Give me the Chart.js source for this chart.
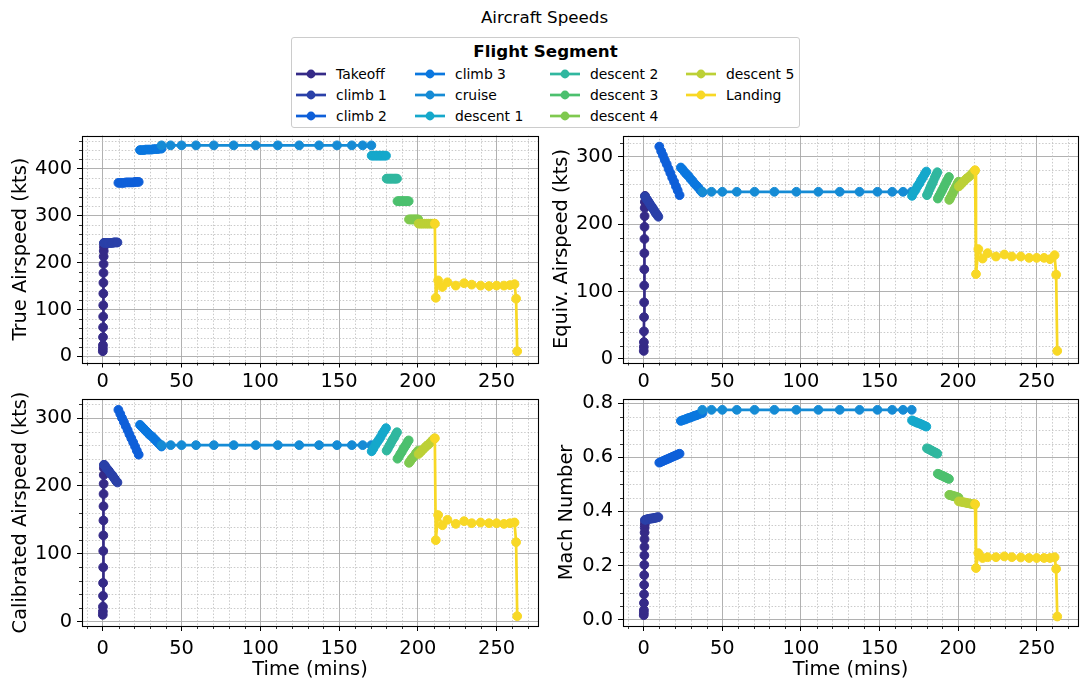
<!DOCTYPE html>
<html>
<head>
<meta charset="utf-8">
<script src="https://cdn.jsdelivr.net/npm/chart.js@4.4.1/dist/chart.umd.min.js"></script>
<style>
html,body{margin:0;padding:0;background:#fff;}
body{width:1089px;height:690px;position:relative;overflow:hidden;font-family:'DejaVu Sans',sans-serif;color:#000;}
canvas{position:absolute;}
#title{position:absolute;left:0;width:1089px;top:7px;text-align:center;font-size:16.7px;line-height:20px;}
#legend{position:absolute;left:291px;top:37px;width:507px;height:89px;border:1px solid #cccccc;border-radius:3px;background:#fff;z-index:5;}
#legend .lt{position:absolute;left:0;width:100%;top:3px;text-align:center;font-weight:bold;font-size:16.7px;line-height:20px;}
#legend .it{position:absolute;height:20px;display:flex;align-items:center;font-size:13.9px;white-space:nowrap;}
#legend svg{margin-right:10px;}
</style>
</head>
<body>
<div id="title">Aircraft Speeds</div>
<div id="legend"><div class="lt">Flight Segment</div></div>
<canvas id="cTAS" width="545" height="280" style="left:0;top:120px"></canvas>
<canvas id="cEAS" width="544" height="280" style="left:545px;top:120px"></canvas>
<canvas id="cCAS" width="545" height="305" style="left:0;top:385px"></canvas>
<canvas id="cMach" width="544" height="305" style="left:545px;top:385px"></canvas>
<script>
// ---------------- DATA ----------------
const segments = ['Takeoff','climb 1','climb 2','climb 3','cruise','descent 1','descent 2','descent 3','descent 4','descent 5','Landing'];
const segColors = ['#352a87','#2a40a8','#0e5fd9','#0a77df','#158bd5','#15a8cb','#30b79f','#4cc06e','#7fc94f','#bcd036','#f8d825'];

const tTakeoff = [0, 0.05, 0.1, 0.15, 0.2, 0.25, 0.3, 0.35, 0.4, 0.45, 0.5, 0.55, 0.6, 0.7, 0.8];
const tClimb1  = [0.8, 1.6, 2.3, 3.1, 3.9, 4.7, 5.4, 6.2, 7.0, 7.7, 8.5, 9.3];
const tClimb2  = [9.9, 11.1, 12.2, 13.4, 14.6, 15.8, 16.9, 18.1, 19.3, 20.5, 21.6, 22.8];
const tClimb3  = [23.6, 24.8, 26.1, 27.3, 28.6, 29.8, 31.1, 32.3, 33.6, 34.8, 36.1, 37.3];
const tCruise  = [37.3, 43.1, 50.0, 59.2, 70.5, 83.1, 97.1, 111.1, 124.7, 137.3, 148.7, 158.1, 165.0, 170.5];
const tDesc1   = [170.7, 171.8, 173.0, 174.1, 175.3, 176.4, 177.5, 178.7, 179.8];
const tDesc2   = [180.2, 181.0, 181.9, 182.7, 183.5, 184.3, 185.2, 186.0, 186.8];
const tDesc3   = [187.1, 188.0, 188.9, 189.8, 190.7, 191.5, 192.4, 193.3, 194.2];
const tDesc4   = [194.4, 195.1, 195.9, 196.6, 197.4, 198.1, 198.8, 199.6, 200.3];
const tDesc5   = [200.5, 201.8, 203.0, 204.3, 205.6, 206.8, 208.1, 209.3, 210.6];
const tLanding = [210.8, 211.4, 212.9, 215.6, 218.8, 224.1, 229.4, 234.2, 239.9, 245.2, 250.0, 254.7, 258.5, 261.4, 262.4, 263.1];
const segTimes = [tTakeoff, tClimb1, tClimb2, tClimb3, tCruise, tDesc1, tDesc2, tDesc3, tDesc4, tDesc5, tLanding];

// True airspeed (kts), per segment
const tasValues = [
  [11, 17, 24, 41, 62, 85, 109, 134, 157, 178, 197, 213, 225, 234, 242],
  [242, 242, 242, 242, 242, 242, 242, 242, 243, 243, 243, 243],
  [370, 370, 370, 370, 371, 371, 371, 371, 371, 372, 372, 372],
  [440, 440, 440, 441, 441, 441, 441, 442, 442, 442, 443, 443],
  [450, 450, 450, 450, 450, 450, 450, 450, 450, 450, 450, 450, 450, 450],
  [428, 428, 428, 428, 428, 428, 428, 428, 428],
  [379, 379, 379, 379, 379, 379, 379, 379, 379],
  [331, 331, 331, 331, 331, 331, 331, 331, 331],
  [292, 292, 292, 292, 292, 292, 292, 292, 292],
  [283, 283, 283, 283, 283, 283, 283, 283, 283],
  [283, 125, 162, 148, 158, 151, 156, 153, 151, 150, 151, 151, 152, 154, 123, 11]
];
// Equivalent airspeed (kts)
const easValues = [
  [12, 18, 25, 41, 62, 84, 109, 133, 157, 178, 196, 212, 224, 233, 242],
  [241, 238, 236, 233, 230, 227, 225, 222, 219, 216, 214, 211],
  [315, 308, 302, 295, 289, 282, 276, 269, 263, 256, 250, 243],
  [284, 281, 277, 274, 271, 267, 264, 260, 257, 254, 250, 247],
  [248, 248, 248, 248, 248, 248, 248, 248, 248, 248, 248, 248, 248, 248],
  [242, 247, 251, 256, 260, 265, 269, 274, 278],
  [243, 247, 252, 256, 260, 264, 269, 273, 277],
  [238, 242, 246, 250, 254, 258, 262, 266, 270],
  [236, 239, 243, 246, 250, 253, 256, 260, 263],
  [256, 259, 262, 265, 268, 270, 273, 276, 279],
  [280, 126, 163, 149, 157, 152, 155, 152, 152, 150, 150, 150, 148, 154, 125, 12]
];
// Calibrated airspeed (kts)
const casValues = [
  [10, 15, 22, 38, 57, 80, 104, 127, 149, 170, 188, 203, 216, 226, 231],
  [231, 229, 226, 224, 222, 219, 217, 215, 212, 210, 207, 205],
  [312, 306, 300, 294, 288, 282, 276, 270, 264, 258, 252, 246],
  [290, 287, 284, 281, 278, 275, 273, 270, 267, 264, 261, 258],
  [260, 260, 260, 260, 260, 260, 260, 260, 260, 260, 260, 260, 260, 260],
  [251, 255, 260, 264, 268, 272, 277, 281, 285],
  [252, 255, 259, 262, 266, 269, 272, 276, 279],
  [240, 243, 247, 250, 254, 257, 260, 264, 267],
  [234, 236, 239, 241, 243, 245, 248, 250, 252],
  [247, 250, 253, 256, 259, 261, 264, 267, 270],
  [270, 120, 157, 142, 150, 144, 148, 145, 146, 145, 145, 144, 145, 146, 117, 8]
];
// Mach number
const machValues = [
  [0.017, 0.026, 0.036, 0.062, 0.094, 0.129, 0.165, 0.203, 0.238, 0.269, 0.298, 0.322, 0.340, 0.354, 0.366],
  [0.369, 0.370, 0.371, 0.372, 0.373, 0.374, 0.374, 0.375, 0.376, 0.377, 0.378, 0.379],
  [0.580, 0.583, 0.586, 0.589, 0.592, 0.595, 0.598, 0.601, 0.604, 0.607, 0.610, 0.613],
  [0.734, 0.737, 0.739, 0.742, 0.745, 0.747, 0.750, 0.753, 0.755, 0.758, 0.761, 0.763],
  [0.775, 0.775, 0.775, 0.775, 0.775, 0.775, 0.775, 0.775, 0.775, 0.775, 0.775, 0.775, 0.775, 0.775],
  [0.736, 0.733, 0.730, 0.727, 0.725, 0.722, 0.719, 0.716, 0.713],
  [0.633, 0.631, 0.628, 0.626, 0.623, 0.621, 0.618, 0.616, 0.613],
  [0.539, 0.537, 0.534, 0.532, 0.530, 0.527, 0.525, 0.522, 0.520],
  [0.461, 0.460, 0.459, 0.457, 0.456, 0.455, 0.454, 0.452, 0.451],
  [0.437, 0.436, 0.434, 0.433, 0.431, 0.430, 0.428, 0.427, 0.425],
  [0.427, 0.191, 0.246, 0.228, 0.231, 0.231, 0.234, 0.231, 0.230, 0.228, 0.228, 0.228, 0.228, 0.231, 0.188, 0.012]
];

// ---------------- RENDER ----------------
const FONT = "'DejaVu Sans', sans-serif";

const frameMinor = {
  id: 'frameMinor',
  beforeDatasetsDraw(chart, args, o) {
    const {ctx, chartArea: a} = chart;
    const xs = chart.scales.x, ys = chart.scales.y;
    const xk0 = Math.ceil(xs.min / o.xMinor - 1e-9), xk1 = Math.floor(xs.max / o.xMinor + 1e-9);
    const yk0 = Math.ceil(ys.min / o.yMinor - 1e-9), yk1 = Math.floor(ys.max / o.yMinor + 1e-9);
    ctx.save();
    ctx.lineWidth = 0.8;
    ctx.strokeStyle = '#bdbdbd';
    ctx.setLineDash([1.5, 1.8]);
    for (let k = xk0; k <= xk1; k++) {
      if (k % o.xRatio === 0) continue;
      const p = Math.round(xs.getPixelForValue(k * o.xMinor)) + 0.5;
      ctx.beginPath(); ctx.moveTo(p, a.top); ctx.lineTo(p, a.bottom); ctx.stroke();
    }
    for (let k = yk0; k <= yk1; k++) {
      if (k % o.yRatio === 0) continue;
      const p = Math.round(ys.getPixelForValue(k * o.yMinor)) + 0.5;
      ctx.beginPath(); ctx.moveTo(a.left, p); ctx.lineTo(a.right, p); ctx.stroke();
    }
    ctx.setLineDash([]);
    ctx.strokeStyle = '#000';
    for (let k = xk0; k <= xk1; k++) {
      if (k % o.xRatio === 0) continue;
      const p = Math.round(xs.getPixelForValue(k * o.xMinor)) + 0.5;
      ctx.beginPath(); ctx.moveTo(p, a.bottom); ctx.lineTo(p, a.bottom + 3); ctx.stroke();
    }
    for (let k = yk0; k <= yk1; k++) {
      if (k % o.yRatio === 0) continue;
      const p = Math.round(ys.getPixelForValue(k * o.yMinor)) + 0.5;
      ctx.beginPath(); ctx.moveTo(a.left, p); ctx.lineTo(a.left - 3, p); ctx.stroke();
    }
    ctx.restore();
  },
  afterDatasetsDraw(chart) {
    const {ctx, chartArea: a} = chart;
    ctx.save();
    ctx.strokeStyle = '#000';
    ctx.lineWidth = 1.1;
    ctx.strokeRect(Math.round(a.left) + 0.5, Math.round(a.top) + 0.5, Math.round(a.right - a.left), Math.round(a.bottom - a.top));
    ctx.restore();
  }
};

function makeChart(id, cfg) {
  const datasets = segments.map((name, i) => ({
    label: name,
    data: segTimes[i].map((t, k) => ({x: t, y: cfg.values[i][k]})),
    borderColor: segColors[i],
    backgroundColor: segColors[i],
    pointBackgroundColor: segColors[i],
    pointBorderColor: segColors[i],
    borderWidth: 2.7,
    pointRadius: 4.4,
    pointBorderWidth: 1,
    tension: 0,
    order: segments.length - i
  }));
  const tickFont = {family: FONT, size: 19.4};
  new Chart(document.getElementById(id), {
    type: 'line',
    data: {datasets},
    options: {
      responsive: false,
      animation: false,
      devicePixelRatio: 1,
      events: [],
      layout: {padding: cfg.pad},
      plugins: {
        legend: {display: false},
        tooltip: {enabled: false},
        frameMinor: {xMinor: 10, xRatio: 5, yMinor: cfg.yMinor, yRatio: cfg.yRatio}
      },
      scales: {
        x: {
          type: 'linear', min: -13.2, max: 276.3,
          afterFit: s => { s.height = cfg.xh; s.paddingLeft = 0; s.paddingRight = 0; },
          ticks: {stepSize: 50, includeBounds: false, font: tickFont, color: '#000', padding: cfg.xTickPad, maxRotation: 0, autoSkip: false,
                  callback: v => String(v)},
          grid: {color: '#a8a8a8', lineWidth: 0.9, tickColor: '#000', tickLength: 5, tickWidth: 1},
          border: {display: false},
          title: {display: !!cfg.xTitle, text: cfg.xTitle || '', font: {family: FONT, size: 19.4}, color: '#000',
                  padding: {top: 0, bottom: 8}}
        },
        y: {
          type: 'linear', min: cfg.yMin, max: cfg.yMax,
          afterFit: s => { s.width = cfg.yw; s.paddingTop = 0; s.paddingBottom = 0; },
          ticks: {stepSize: cfg.yStep, includeBounds: false, font: tickFont, color: '#000', padding: 5, autoSkip: false,
                  callback: cfg.yFmt},
          grid: {color: '#a8a8a8', lineWidth: 0.9, tickColor: '#000', tickLength: 5, tickWidth: 1},
          border: {display: false},
          title: {display: true, text: cfg.yTitle, font: {family: FONT, size: 19.4}, color: '#000',
                  padding: {top: cfg.yTitlePad, bottom: 0}}
        }
      }
    },
    plugins: [frameMinor]
  });
}

const intFmt = v => String(Math.round(v));
makeChart('cTAS', {values: tasValues, yMin: -13, yMax: 471, yStep: 100, yMinor: 20, yRatio: 5, yFmt: intFmt,
  yTitle: 'True Airspeed (kts)', yTitlePad: 9.4, yw: 82, xh: 37.5, xTickPad: 3, pad: {top: 15.5, right: 7, bottom: 0, left: 0}});
makeChart('cEAS', {values: easValues, yMin: -5.2, yMax: 331.5, yStep: 100, yMinor: 20, yRatio: 5, yFmt: intFmt,
  yTitle: 'Equiv. Airspeed (kts)', yTitlePad: 5, yw: 78, xh: 37.5, xTickPad: 3, pad: {top: 15.5, right: 11, bottom: 0, left: 0}});
makeChart('cCAS', {values: casValues, yMin: -6.5, yMax: 328, yStep: 100, yMinor: 20, yRatio: 5, yFmt: intFmt,
  yTitle: 'Calibrated Airspeed (kts)', yTitlePad: 9.4, yw: 82, xh: 64, xTitle: 'Time (mins)', xTickPad: 6, pad: {top: 14, right: 7, bottom: 0, left: 0}});
makeChart('cMach', {values: machValues, yMin: -0.023, yMax: 0.815, yStep: 0.2, yMinor: 0.05, yRatio: 4, yFmt: v => v.toFixed(1),
  yTitle: 'Mach Number', yTitlePad: 10, yw: 78, xh: 64, xTitle: 'Time (mins)', xTickPad: 6, pad: {top: 14, right: 11, bottom: 0, left: 0}});

// ---------------- LEGEND ----------------
const legendEl = document.getElementById('legend');
const colX = [4, 123, 258, 394];
const rowY = [36, 57, 78];
segments.forEach((name, i) => {
  const col = Math.floor(i / 3), row = i % 3;
  const d = document.createElement('div');
  d.className = 'it';
  d.style.left = colX[col] + 'px';
  d.style.top = (rowY[row] - 10) + 'px';
  const c = segColors[i];
  d.innerHTML = '<svg width="30" height="20"><line x1="0" y1="10" x2="30" y2="10" stroke="' + c + '" stroke-width="2.7"/>' +
    '<circle cx="15" cy="10" r="4.4" fill="' + c + '"/></svg>';
  const s = document.createElement('span');
  s.textContent = name;
  d.appendChild(s);
  legendEl.appendChild(d);
});
</script>
</body>
</html>
